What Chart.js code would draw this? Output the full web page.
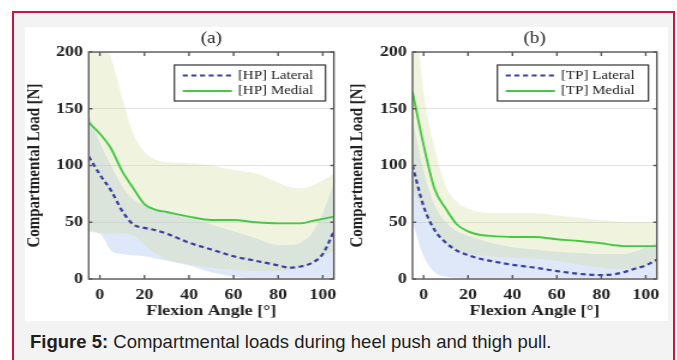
<!DOCTYPE html>
<html>
<head>
<meta charset="utf-8">
<script src="https://cdn.jsdelivr.net/npm/chart.js@4.4.1/dist/chart.umd.min.js"></script>
<style>
  html, body { margin: 0; padding: 0; background: #fff; }
  body { width: 677px; height: 360px; overflow: hidden; position: relative; }
  .frame { position: absolute; left: 12px; top: 11px; width: 659px; height: 360px;
           border: 2px solid #c5173f; background: #f3f3f3; }
  .figure { position: absolute; left: 25px; top: 27px; width: 643px; height: 294px; background: #fff; }
  .panel { position: absolute; top: 27px; }
  #panelA { left: 20px; }
  #panelB { left: 343px; }
  .caption { position: absolute; left: 30px; top: 331px; font: 18.5px "Liberation Sans", Arial, sans-serif;
             color: #1e1e1e; white-space: nowrap; }
</style>
</head>
<body>
<div class="frame"></div>
<div class="figure"></div>
<!-- the figure is drawn narrower and shown 1.2x wider, like the exported plot -->
<canvas id="panelA" class="panel" width="271" height="295" style="width:325px;height:295px"></canvas>
<canvas id="panelB" class="panel" width="271" height="295" style="width:325px;height:295px"></canvas>
<div class="caption"><b>Figure 5:</b> Compartmental loads during heel push and thigh pull.</div>

<script>
'use strict';

// flexion angle samples [deg]
const angles = [-5, 0, 5, 10, 15, 20, 25, 30, 40, 50, 60, 70, 80, 85, 90, 95, 100, 105];

// (a) heel push: mean and band limits [N]
const hpMedial    = [138, 128, 115, 95, 80, 66, 61, 59, 55, 52, 52, 50, 49, 49, 49, 51, 53, 55];
const hpMedialHi  = [240, 215, 195, 160, 128, 112, 105, 103, 102, 100, 96, 93, 85, 81, 80, 82, 87, 93];
const hpMedialLo  = [42, 40, 40, 40, 38, 30, 22, 17, 13, 10, 8, 7, 7, 8, 10, 14, 20, 25];
const hpLateral   = [108, 92, 78, 60, 48, 45, 43, 40, 32, 26, 20, 16, 12, 10, 11, 14, 22, 42];
const hpLateralHi = [145, 120, 100, 82, 70, 65, 62, 60, 55, 48, 42, 36, 30, 30, 32, 40, 58, 85];
const hpLateralLo = [42, 40, 25, 22, 21, 20, 18, 16, 12, 6, 2, 0, 0, 0, 0, 0, 0, 0];

// (b) thigh pull
const tpMedial    = [165, 118, 79, 62, 48, 42, 39, 38, 37, 37, 35, 33.5, 31.5, 30, 29, 29, 29, 29];
const tpMedialHi  = [260, 165, 115, 82, 68, 62, 59, 58, 58, 58, 56, 54, 52, 51, 50, 50, 50, 50];
const tpMedialLo  = [80, 60, 42, 32, 26, 23, 21, 20, 19, 18, 16, 13, 10, 9, 9, 10, 12, 14];
const tpLateral   = [100, 64, 43, 32, 25, 21, 18, 16, 12.5, 10, 7, 4.5, 3.5, 4, 6, 9, 12, 17];
const tpLateralHi = [140, 95, 65, 50, 42, 38, 35, 32, 28, 26, 24, 23, 22, 22, 22, 24, 28, 32];
const tpLateralLo = [50, 20, 6, 2, 1, 0, 0, 0, 0, 0, 0, 0, 0, 0, 0, 0, 0, 0];

const xTicks = [0, 20, 40, 60, 80, 100];
const yTicks = [0, 50, 100, 150, 200];

const GREEN = '#45c945';
const BLUE = '#3b3ea0';
const MEDIAL_FILL = 'rgba(206, 218, 150, 0.30)';
const LATERAL_FILL = 'rgba(170, 195, 240, 0.38)';
const INK = '#222';
const SERIF = '"Liberation Serif", "Times New Roman", serif';

const pts = (ys) => angles.map((x, i) => ({ x, y: ys[i] }));

// panel label "(a)" / "(b)" centred over the plot area
const panelTitle = {
    id: 'panelTitle',
    afterDraw(chart, _args, opts) {
        const { ctx, chartArea } = chart;
        ctx.save();
        ctx.font = '16px ' + SERIF;
        ctx.fillStyle = INK;
        ctx.textAlign = 'center';
        ctx.textBaseline = 'middle';
        ctx.fillText(opts.text, (chartArea.left + chartArea.right) / 2, chartArea.top - 13);
        ctx.restore();
    }
};

// boxed axes with inward tick marks on all four sides
const axesFrame = {
    id: 'axesFrame',
    afterDraw(chart) {
        const { ctx, chartArea: a, scales } = chart;
        ctx.save();
        ctx.strokeStyle = '#5a5a5a';
        ctx.lineWidth = 1.4;
        ctx.beginPath();
        xTicks.forEach(v => {
            const px = scales.x.getPixelForValue(v);
            ctx.moveTo(px, a.bottom); ctx.lineTo(px, a.bottom - 4);
            ctx.moveTo(px, a.top); ctx.lineTo(px, a.top + 4);
        });
        yTicks.forEach(v => {
            const py = scales.y.getPixelForValue(v);
            ctx.moveTo(a.left, py); ctx.lineTo(a.left + 3, py);
            ctx.moveTo(a.right, py); ctx.lineTo(a.right - 3, py);
        });
        ctx.stroke();
        ctx.strokeRect(a.left, a.top, a.right - a.left, a.bottom - a.top);
        ctx.restore();
    }
};

// legend box in the upper right corner of the plot
const legendBox = {
    id: 'legendBox',
    afterDatasetsDraw(chart) {
        const { ctx, chartArea: a } = chart;
        const items = chart.data.datasets.filter(d => d.label);
        const w = 126, h = 36;
        const left = a.right - 7 - w, top = a.top + 13;
        ctx.save();
        ctx.fillStyle = '#fff';
        ctx.fillRect(left, top, w, h);
        ctx.strokeStyle = '#333';
        ctx.lineWidth = 1.2;
        ctx.strokeRect(left, top, w, h);
        ctx.font = '12.5px ' + SERIF;
        ctx.textBaseline = 'middle';
        items.forEach((d, i) => {
            const y = top + 10.5 + i * 15.5;
            ctx.strokeStyle = d.borderColor;
            ctx.lineWidth = d.borderWidth;
            ctx.setLineDash(d.borderDash || []);
            ctx.beginPath();
            ctx.moveTo(left + 7, y);
            ctx.lineTo(left + 48, y);
            ctx.stroke();
            ctx.fillStyle = INK;
            ctx.fillText(d.label, left + 53, y);
        });
        ctx.restore();
    }
};

const makePanel = (id, title, prefix, medial, medialHi, medialLo, lateral, lateralHi, lateralLo, yAxisW, padRight, titlePad) => {
    const band = (data, fill, color) => ({
        data: pts(data),
        borderWidth: 0,
        pointRadius: 0,
        fill: fill,
        backgroundColor: color,
        cubicInterpolationMode: 'monotone'
    });

    const datasets = [
        {
            label: prefix + ' Lateral',
            data: pts(lateral),
            borderColor: BLUE,
            borderWidth: 2.2,
            borderDash: [4.2, 3],
            pointRadius: 0,
            fill: false,
            cubicInterpolationMode: 'monotone'
        },
        {
            label: prefix + ' Medial',
            data: pts(medial),
            borderColor: GREEN,
            borderWidth: 1.9,
            pointRadius: 0,
            fill: false,
            cubicInterpolationMode: 'monotone'
        },
        band(medialHi, '+1', MEDIAL_FILL),
        band(medialLo, false, 'transparent'),
        band(lateralHi, '+1', LATERAL_FILL),
        band(lateralLo, false, 'transparent')
    ];

    const font = { family: SERIF, size: 15, weight: 'bold' };

    return new Chart(document.getElementById(id), {
        type: 'line',
        data: { datasets },
        options: {
            responsive: false,
            animation: false,
            events: [],
            layout: { padding: { top: 25, right: padRight, left: 0, bottom: 0 } },
            plugins: {
                legend: { display: false },
                tooltip: { enabled: false },
                panelTitle: { text: title }
            },
            scales: {
                x: {
                    type: 'linear',
                    min: -5,
                    max: 105,
                    afterBuildTicks: (scale) => { scale.ticks = xTicks.map(value => ({ value })); },
                    afterFit: (scale) => { scale.height = 43; },
                    grid: { display: false, drawTicks: false },
                    border: { display: false },
                    ticks: { padding: 7, color: INK, font },
                    title: {
                        display: true,
                        text: 'Flexion Angle [°]',
                        color: INK,
                        padding: { top: 0, bottom: 1.5 },
                        font
                    }
                },
                y: {
                    min: 0,
                    max: 200,
                    afterBuildTicks: (scale) => { scale.ticks = yTicks.map(value => ({ value })); },
                    afterFit: (scale) => { scale.width = yAxisW; },
                    grid: { color: '#e3e3e3', lineWidth: 1, drawTicks: false },
                    border: { display: false },
                    ticks: { padding: 4.8, color: INK, font },
                    title: {
                        display: true,
                        text: 'Compartmental Load [N]',
                        color: INK,
                        padding: { top: titlePad, bottom: 0 },
                        font
                    }
                }
            }
        },
        plugins: [panelTitle, legendBox, axesFrame]
    });
};

makePanel('panelA', '(a)', '[HP]', hpMedial, hpMedialHi, hpMedialLo, hpLateral, hpLateralHi, hpLateralLo, 57.3, 7.3, 2.7);
makePanel('panelB', '(b)', '[TP]', tpMedial, tpMedialHi, tpMedialLo, tpLateral, tpLateralHi, tpLateralLo, 57.95, 6.7, 3);
</script>
</body>
</html>
